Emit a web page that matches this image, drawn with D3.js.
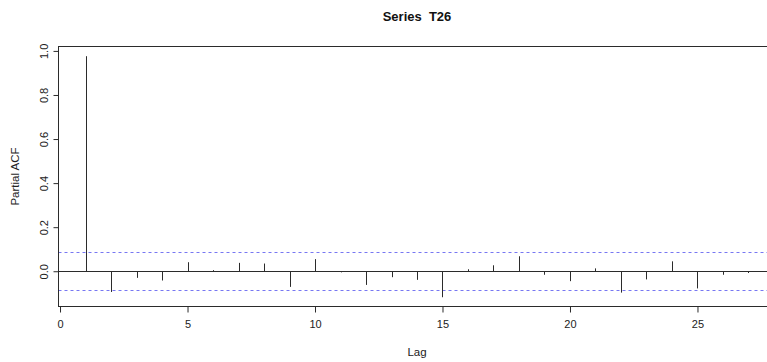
<!DOCTYPE html>
<html>
<head>
<meta charset="utf-8">
<script src="https://cdn.jsdelivr.net/npm/d3@7"></script>
<style>
  html, body { margin: 0; padding: 0; background: #fff; }
  svg { display: block; font-family: "Liberation Sans", Arial, sans-serif; }
  .title { white-space: pre; }
</style>
</head>
<body>
<svg id="chart" width="767" height="362"></svg>
<script>
// Partial autocorrelations of series T26, lags 1..27
const lags = d3.range(1, 28);
const pacf = [0.976, -0.094, -0.030, -0.042, 0.041, 0.005, 0.038, 0.035, -0.071,
              0.055, -0.005, -0.062, -0.027, -0.039, -0.118, 0.009, 0.027, 0.068,
              -0.016, -0.045, 0.013, -0.097, -0.037, 0.045, -0.078, -0.016, -0.008];
const confLimit = 0.0865;
const xTicks = [0, 5, 10, 15, 20, 25];
const yTicks = [0.0, 0.2, 0.4, 0.6, 0.8, 1.0];
const titleText = "Series  T26";
const xLabel = "Lag";
const yLabel = "Partial ACF";

const svg = d3.select("#chart");
const plotL = 58.5, plotT = 46.5, plotB = 306.5, plotR = 775.5;

const x = d3.scaleLinear().domain([-0.06, 28.06]).range([plotL, plotR]);
const y = d3.scaleLinear().domain([-0.16, 1.02]).range([plotB, plotT]);

const ink = "#2b2b2b";

// title
svg.append("text")
  .attr("class", "title")
  .attr("x", (plotL + plotR) / 2).attr("y", 21)
  .attr("text-anchor", "middle")
  .attr("font-weight", "bold").attr("font-size", 13)
  .attr("fill", "#111")
  .text(titleText);

// zero line
svg.append("line")
  .attr("x1", plotL).attr("x2", plotR)
  .attr("y1", Math.round(y(0)) + 0.5).attr("y2", Math.round(y(0)) + 0.5)
  .attr("stroke", ink).attr("stroke-width", 1);

// confidence bounds
[confLimit, -confLimit].forEach(c => {
  svg.append("line")
    .attr("x1", plotL).attr("x2", plotR)
    .attr("y1", Math.round(y(c)) + 0.5).attr("y2", Math.round(y(c)) + 0.5)
    .attr("stroke", "#7777f2").attr("stroke-width", 1)
    .attr("stroke-dasharray", "3,3");
});

// spikes
svg.append("g").selectAll("line")
  .data(lags.map((l, i) => ({ lag: l, v: pacf[i] })))
  .join("line")
  .attr("x1", d => Math.round(x(d.lag)) + 0.5)
  .attr("x2", d => Math.round(x(d.lag)) + 0.5)
  .attr("y1", Math.round(y(0)) + 0.5)
  .attr("y2", d => y(d.v))
  .attr("stroke", ink).attr("stroke-width", 1);

// frame
svg.append("rect")
  .attr("x", plotL).attr("y", plotT)
  .attr("width", plotR - plotL).attr("height", plotB - plotT)
  .attr("fill", "none").attr("stroke", ink).attr("stroke-width", 1);

// x axis
const xAxis = d3.axisBottom(x).tickValues(xTicks).tickSize(6).tickPadding(8)
  .tickFormat(d3.format("d"));
const gx = svg.append("g").attr("transform", `translate(0,${plotB})`).call(xAxis);
gx.select(".domain").attr("stroke", ink)
  .attr("d", `M${x(xTicks[0])},0H${x(xTicks[xTicks.length - 1])}`);
gx.selectAll(".tick line").attr("stroke", ink);
gx.selectAll(".tick text").attr("font-size", 11).attr("fill", "#222")
  .attr("font-family", "Liberation Sans, Arial, sans-serif");

// y axis
const yAxis = d3.axisLeft(y).tickValues(yTicks).tickSize(5)
  .tickFormat(d3.format(".1f"));
const gy = svg.append("g").attr("transform", `translate(${plotL},0)`).call(yAxis);
gy.select(".domain").attr("stroke", ink)
  .attr("d", `M0,${y(yTicks[0])}V${y(yTicks[yTicks.length - 1])}`);
gy.selectAll(".tick line").attr("stroke", ink);
gy.selectAll(".tick text")
  .attr("font-size", 11).attr("fill", "#222")
  .attr("font-family", "Liberation Sans, Arial, sans-serif")
  .attr("x", null)
  .attr("text-anchor", "middle")
  .attr("transform", "translate(-14,0) rotate(-90)")
  .attr("dy", "0.35em");

// axis titles
svg.append("text")
  .attr("x", (plotL + plotR) / 2).attr("y", 356)
  .attr("text-anchor", "middle").attr("font-size", 11.5).attr("fill", "#222")
  .text(xLabel);
svg.append("text")
  .attr("transform", `translate(19,${(plotT + plotB) / 2}) rotate(-90)`)
  .attr("text-anchor", "middle").attr("font-size", 11.5).attr("fill", "#222")
  .text(yLabel);
</script>
</body>
</html>
